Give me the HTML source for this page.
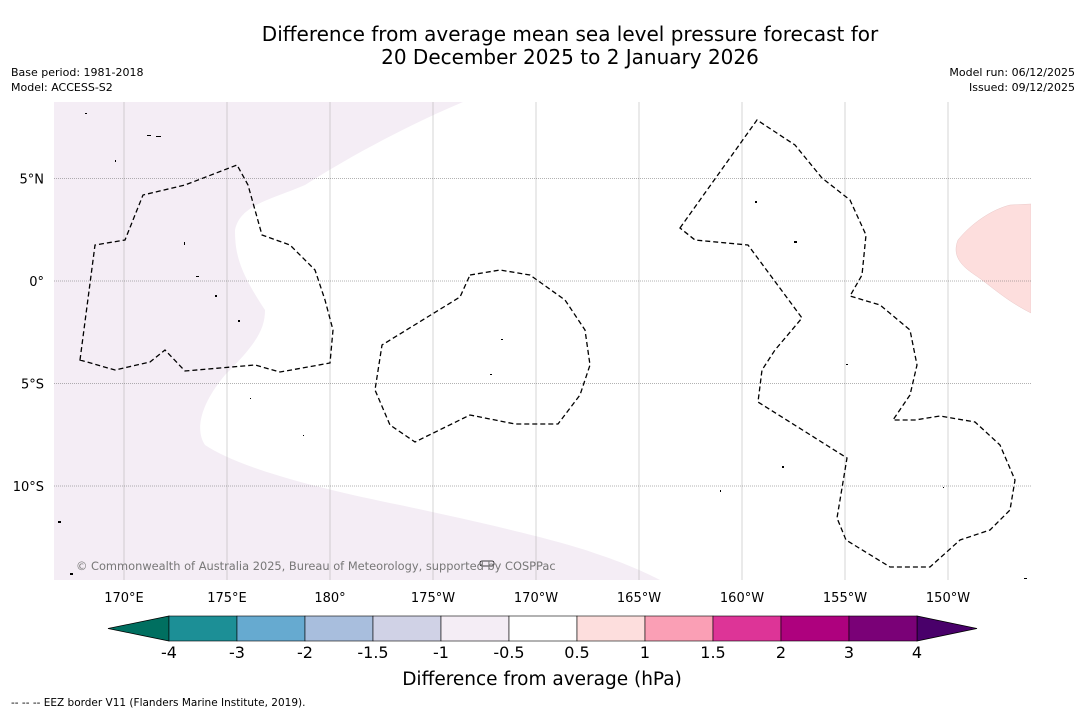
<!DOCTYPE html>
<html><head><meta charset="utf-8"><style>
body{margin:0;background:#fff;font-family:"Liberation Sans","DejaVu Sans",sans-serif}
</style></head><body>
<svg id="s" width="1085" height="713" xmlns="http://www.w3.org/2000/svg" font-family="DejaVu Sans, Liberation Sans, sans-serif">
<rect width="1085" height="713" fill="#fff"/>
<text x="570" y="41" font-size="20" text-anchor="middle">Difference from average mean sea level pressure forecast for</text>
<text x="570" y="64" font-size="20" text-anchor="middle">20 December 2025 to 2 January 2026</text>
<text x="11" y="76" font-size="11">Base period: 1981-2018</text>
<text x="11" y="91" font-size="11">Model: ACCESS-S2</text>
<text x="1075" y="76" font-size="11" text-anchor="end">Model run: 06/12/2025</text>
<text x="1075" y="91" font-size="11" text-anchor="end">Issued: 09/12/2025</text>
<defs><clipPath id="c"><rect x="54" y="102" width="977" height="478"/></clipPath></defs>
<g clip-path="url(#c)">
<path fill="#f4edf5" d="M54,102 L463,102 C420,120 360,150 305,185 C270,200 240,205 235,230 C235,255 240,272 265,310 C265,330 255,345 225,375 C200,405 195,430 205,445 C235,465 300,485 400,505 C470,520 560,540 600,555 C630,565 650,575 660,580 L54,580 Z"/>
<path fill="#fddedd" stroke="#e9c9c9" stroke-width="0.5" d="M1031,204 L1010,205 C990,210 970,225 958,240 C952,255 960,265 975,275 C990,285 1005,300 1031,313 Z"/>
<g id="grid"></g>
<g fill="none" stroke="#000" stroke-width="1.3" stroke-dasharray="5,3">
<path d="M80,360 L95,245 L125,240 L143,195 L185,185 L237,165 L248,185 L262,235 L290,245 L315,270 L325,300 L333,330 L330,363 L280,372 L255,365 L185,371 L165,350 L150,362 L115,370 Z"/>
<path d="M470,275 L500,270 L530,275 L565,300 L585,330 L590,365 L580,395 L558,424 L515,424 L470,415 L415,442 L390,425 L375,390 L382,345 L460,297 Z"/>
<path d="M680,228 L757,120 L795,145 L822,178 L850,200 L866,235 L862,275 L850,296 L880,305 L910,330 L917,365 L910,395 L893,420 L915,420 L940,416 L975,422 L1000,445 L1015,480 L1010,510 L990,530 L960,540 L930,567 L890,567 L846,540 L837,518 L847,458 L758,402 L762,370 L775,350 L802,318 L785,295 L748,245 L695,240 Z"/>
</g>
<g fill="#000">
<rect x="147" y="135" width="4" height="1"/><rect x="156" y="136" width="5" height="1"/><rect x="184" y="242" width="1" height="3"/><rect x="196" y="276" width="3" height="1"/><rect x="215" y="295" width="2" height="2"/><rect x="501" y="339" width="2" height="1"/><rect x="755" y="201" width="2" height="2"/><rect x="794" y="241" width="3" height="2"/><rect x="490" y="374" width="2" height="1"/><rect x="782" y="466" width="2" height="2"/><rect x="480" y="561" width="14" height="5" rx="2" fill="none" stroke="#000" stroke-width="0.8"/><rect x="58" y="521" width="3" height="2"/><rect x="70" y="573" width="3" height="2"/><rect x="1024" y="578" width="3" height="1"/>
<rect x="85" y="113" width="2" height="1"/><rect x="115" y="160" width="1" height="2"/><rect x="238" y="320" width="2" height="2"/><rect x="250" y="398" width="1" height="1"/><rect x="303" y="435" width="1" height="1"/><rect x="720" y="490" width="1" height="2"/><rect x="846" y="364" width="2" height="1"/><rect x="943" y="487" width="1" height="1"/>
</g>
<text x="76" y="570" font-size="11.4" fill="#777">© Commonwealth of Australia 2025, Bureau of Meteorology, supported by COSPPac</text>
</g>
<g id="axes"></g>
<g id="cbar"></g>
<text x="542" y="685" font-size="18.5" text-anchor="middle">Difference from average (hPa)</text>
<text x="11" y="706" font-size="10.5">--  --  -- EEZ border V11 (Flanders Marine Institute, 2019).</text>
</svg>
<script>
const lonTicks=[170,175,180,185,190,195,200,205,210];
const lonLabels=["170°E","175°E","180°","175°W","170°W","165°W","160°W","155°W","150°W"];
const latTicks=[5,0,-5,-10];
const latLabels=["5°N","0°","5°S","10°S"];
const levels=["-4","-3","-2","-1.5","-1","-0.5","0.5","1","1.5","2","3","4"];
const colors=["#1c8f96","#66aad0","#a8bedd","#d0d2e6","#f4edf5","#ffffff","#fddedd","#fa9fb5","#dd3497","#ae017e","#7a0177"];
const ns="http://www.w3.org/2000/svg";
const X=l=>124+(l-170)*20.6, Y=la=>281-la*20.5;
function mk(t,a,p){const e=document.createElementNS(ns,t);for(const k in a)e.setAttribute(k,a[k]);p.appendChild(e);return e;}
const g=document.getElementById('grid'),ax=document.getElementById('axes'),cb=document.getElementById('cbar');
lonTicks.forEach((l,i)=>{
 const ln=mk('line',{x1:X(l),x2:X(l),y1:102,y2:580,stroke:'#aaa','stroke-width':0.5},g);
 
 
 const t=mk('text',{x:X(l),y:602,'font-size':13,'text-anchor':'middle'},ax);t.textContent=lonLabels[i];
 
 
});
latTicks.forEach((la,i)=>{
 const ln=mk('line',{x1:54,x2:1031,y1:Y(la),y2:Y(la),stroke:'#666','stroke-width':0.5,'stroke-dasharray':'1,1'},g);
 
 
 const t=mk('text',{x:44,y:Y(la)+5,'font-size':13,'text-anchor':'end'},ax);t.textContent=latLabels[i];
 
 
});
const x0=169,w=68,y0=616,h=25;
const l=mk('polygon',{points:`${x0},${y0} ${x0},${y0+h} 108,${y0+h/2}`,fill:'#006f60',stroke:'#000','stroke-width':0.8},cb);


const xe=x0+w*colors.length;
const r=mk('polygon',{points:`${xe},${y0} ${xe},${y0+h} 977,${y0+h/2}`,fill:'#49006a',stroke:'#000','stroke-width':0.8},cb);


colors.forEach((c,i)=>{
 const b=mk('rect',{x:x0+i*w,y:y0,width:w,height:h,fill:c,stroke:'#000','stroke-width':0.6},cb);
 
 
});
levels.forEach((v,i)=>{
 const t=mk('text',{x:x0+i*w,y:658,'font-size':16,'text-anchor':'middle'},cb);t.textContent=v;
 
 
});
</script>
</body></html>
